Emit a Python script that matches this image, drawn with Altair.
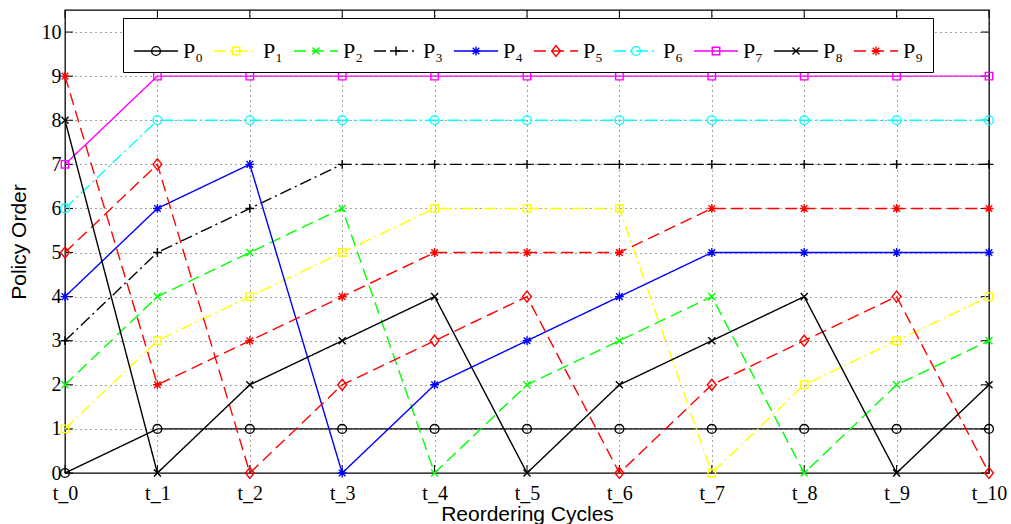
import json
import altair as alt
import pandas as pd

# ---- data ----
t_index = list(range(11))
t_labels = ["t_0", "t_1", "t_2", "t_3", "t_4", "t_5", "t_6", "t_7", "t_8", "t_9", "t_10"]
y_ticks = list(range(11))
series = ["P\u2080", "P\u2081", "P\u2082", "P\u2083", "P\u2084",
          "P\u2085", "P\u2086", "P\u2087", "P\u2088", "P\u2089"]
p0 = [0, 1, 1, 1, 1, 1, 1, 1, 1, 1, 1]
p1 = [1, 3, 4, 5, 6, 6, 6, 0, 2, 3, 4]
p2 = [2, 4, 5, 6, 0, 2, 3, 4, 0, 2, 3]
p3 = [3, 5, 6, 7, 7, 7, 7, 7, 7, 7, 7]
p4 = [4, 6, 7, 0, 2, 3, 4, 5, 5, 5, 5]
p5 = [5, 7, 0, 2, 3, 4, 0, 2, 3, 4, 0]
p6 = [6, 8, 8, 8, 8, 8, 8, 8, 8, 8, 8]
p7 = [7, 9, 9, 9, 9, 9, 9, 9, 9, 9, 9]
p8 = [8, 0, 2, 3, 4, 0, 2, 3, 4, 0, 2]
p9 = [9, 2, 3, 4, 5, 5, 5, 6, 6, 6, 6]
all_values = [p0, p1, p2, p3, p4, p5, p6, p7, p8, p9]

# ---- styles ----
colors = ["#000000", "#ffff00", "#00ff00", "#000000", "#0000ff",
          "#ff0000", "#00ffff", "#ff00ff", "#000000", "#ff0000"]
SOLID = [1, 0]
DASH = [12, 6]
DASHDOT = [12, 4, 2, 4]
dashes = [SOLID, DASHDOT, DASH, DASHDOT, SOLID, DASH, DASHDOT, SOLID, SOLID, DASH]

B = "M-1,0M1,0"  # invisible extent so legend layout matches the line legend
circle = B + "M-0.2,0A0.2,0.2 0 1,1 0.2,0A0.2,0.2 0 1,1 -0.2,0Z"
square = B + "M-0.17,-0.17H0.17V0.17H-0.17Z"
xmark = B + "M-0.16,-0.16L0.16,0.16M-0.16,0.16L0.16,-0.16"
plus = B + "M-0.2,0H0.2M0,-0.2V0.2"
aster = B + "M-0.2,0H0.2M0,-0.2V0.2M-0.15,-0.15L0.15,0.15M-0.15,0.15L0.15,-0.15"
diamond = B + "M0,-0.25L0.2,0L0,0.25L-0.2,0Z"
shapes = [circle, square, xmark, plus, aster, diamond, circle, square, xmark, aster]

rows = []
for name, vals in zip(series, all_values):
    for t, v in zip(t_index, vals):
        rows.append({"series": name, "t": t, "value": v})
df = pd.DataFrame(rows)
xt = pd.DataFrame({"t": t_index})
yt = pd.DataFrame({"value": y_ticks})

W, H = 924, 463
x_axis = alt.Axis(values=t_index, labelExpr=json.dumps(t_labels) + "[datum.value]",
                  title="Reordering Cycles", labelPadding=10, titlePadding=0)
y_axis = alt.Axis(values=y_ticks, format="d", title="Policy Order",
                  labelPadding=4, titlePadding=12)
x_enc = alt.X("t:Q", scale=alt.Scale(domain=[0, 10], nice=False, zero=False), axis=x_axis)
y_enc = alt.Y("value:Q", scale=alt.Scale(domain=[0, 10.5], nice=False), axis=y_axis)

common = dict(orient="none", legendX=58, legendY=8, direction="horizontal", columns=10,
              title=None, symbolSize=1936, labelFont="Liberation Serif", labelFontSize=22,
              labelColor="black", labelOffset=4, columnPadding=8, padding=10,
              symbolStrokeWidth=1.4)
line_legend = alt.Legend(strokeColor="black", fillColor="white", **common)
point_legend = alt.Legend(labelOpacity=0, **common)

lines = alt.Chart(df).mark_line(strokeWidth=1.4).encode(
    x=x_enc, y=y_enc,
    color=alt.Color("series:N", scale=alt.Scale(domain=series, range=colors), legend=line_legend),
    strokeDash=alt.StrokeDash("series:N", scale=alt.Scale(domain=series, range=dashes),
                              legend=line_legend),
)
points = alt.Chart(df).mark_point(size=1936, filled=False, opacity=1, strokeWidth=1.4).encode(
    x=x_enc, y=y_enc,
    color=alt.Color("series:N", scale=alt.Scale(domain=series, range=colors), legend=point_legend),
    shape=alt.Shape("series:N", scale=alt.Scale(domain=series, range=shapes), legend=point_legend),
)

tick_len = 8
xb = alt.Chart(xt).mark_rule(color="black", strokeWidth=1).encode(
    x=x_enc, y=alt.value(H), y2=alt.value(H - tick_len))
xtop = alt.Chart(xt).mark_rule(color="black", strokeWidth=1).encode(
    x=x_enc, y=alt.value(0), y2=alt.value(tick_len))
yl = alt.Chart(yt).mark_rule(color="black", strokeWidth=1).encode(
    y=y_enc, x=alt.value(0), x2=alt.value(tick_len))
yr = alt.Chart(yt).mark_rule(color="black", strokeWidth=1).encode(
    y=y_enc, x=alt.value(W), x2=alt.value(W - tick_len))

chart = alt.layer(xb, xtop, yl, yr, lines, points).resolve_scale(
    color="independent", strokeDash="independent", shape="independent"
).properties(
    width=W, height=H,
    autosize=alt.AutoSizeParams(type="none"),
    padding={"left": 65, "top": 10, "right": 22, "bottom": 51},
    background="white",
).configure_view(
    stroke="black", strokeWidth=1.3
).configure_axis(
    labelFont="Liberation Serif", labelFontSize=20, labelColor="black",
    ticks=False, tickSize=0, domain=False,
    grid=True, gridColor="#444444", gridDash=[1, 4], gridWidth=1,
    titleFont="Liberation Sans", titleFontSize=21, titleFontWeight="normal",
    titleColor="black", labelFlush=False,
)

chart.save("out.html", embed_options={"renderer": "svg", "actions": False})
